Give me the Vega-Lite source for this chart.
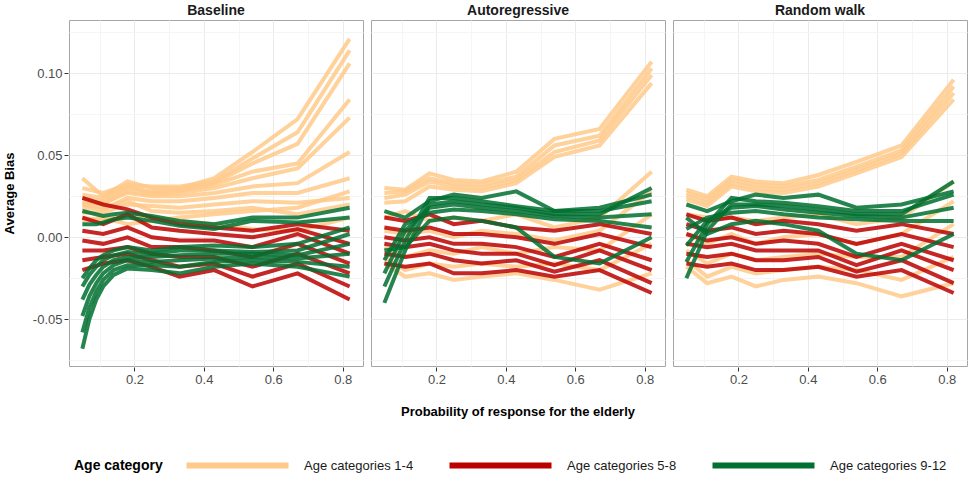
{
"$schema":"https://vega.github.io/schema/vega-lite/v6.json",
"padding":{"left":3,"top":4,"right":3,"bottom":3},
"background":"white",
"data":{"values":[
{"f":"B","g":"1-4","l":1,"x":0.05,"y":0.036},{"f":"B","g":"1-4","l":1,"x":0.11,"y":0.025},{"f":"B","g":"1-4","l":1,"x":0.18,"y":0.034},{"f":"B","g":"1-4","l":1,"x":0.25,"y":0.030},{"f":"B","g":"1-4","l":1,"x":0.33,"y":0.030},{"f":"B","g":"1-4","l":1,"x":0.43,"y":0.036},{"f":"B","g":"1-4","l":1,"x":0.54,"y":0.052},{"f":"B","g":"1-4","l":1,"x":0.67,"y":0.072},{"f":"B","g":"1-4","l":1,"x":0.82,"y":0.121},
{"f":"B","g":"1-4","l":2,"x":0.05,"y":0.030},{"f":"B","g":"1-4","l":2,"x":0.11,"y":0.027},{"f":"B","g":"1-4","l":2,"x":0.18,"y":0.032},{"f":"B","g":"1-4","l":2,"x":0.25,"y":0.031},{"f":"B","g":"1-4","l":2,"x":0.33,"y":0.031},{"f":"B","g":"1-4","l":2,"x":0.43,"y":0.034},{"f":"B","g":"1-4","l":2,"x":0.54,"y":0.048},{"f":"B","g":"1-4","l":2,"x":0.67,"y":0.064},{"f":"B","g":"1-4","l":2,"x":0.82,"y":0.114},
{"f":"B","g":"1-4","l":3,"x":0.05,"y":0.026},{"f":"B","g":"1-4","l":3,"x":0.11,"y":0.024},{"f":"B","g":"1-4","l":3,"x":0.18,"y":0.030},{"f":"B","g":"1-4","l":3,"x":0.25,"y":0.028},{"f":"B","g":"1-4","l":3,"x":0.33,"y":0.029},{"f":"B","g":"1-4","l":3,"x":0.43,"y":0.033},{"f":"B","g":"1-4","l":3,"x":0.54,"y":0.045},{"f":"B","g":"1-4","l":3,"x":0.67,"y":0.057},{"f":"B","g":"1-4","l":3,"x":0.82,"y":0.106},
{"f":"B","g":"1-4","l":4,"x":0.05,"y":0.024},{"f":"B","g":"1-4","l":4,"x":0.11,"y":0.022},{"f":"B","g":"1-4","l":4,"x":0.18,"y":0.031},{"f":"B","g":"1-4","l":4,"x":0.25,"y":0.027},{"f":"B","g":"1-4","l":4,"x":0.33,"y":0.028},{"f":"B","g":"1-4","l":4,"x":0.43,"y":0.032},{"f":"B","g":"1-4","l":4,"x":0.54,"y":0.040},{"f":"B","g":"1-4","l":4,"x":0.67,"y":0.045},{"f":"B","g":"1-4","l":4,"x":0.82,"y":0.084},
{"f":"B","g":"1-4","l":5,"x":0.05,"y":0.022},{"f":"B","g":"1-4","l":5,"x":0.11,"y":0.020},{"f":"B","g":"1-4","l":5,"x":0.18,"y":0.028},{"f":"B","g":"1-4","l":5,"x":0.25,"y":0.026},{"f":"B","g":"1-4","l":5,"x":0.33,"y":0.027},{"f":"B","g":"1-4","l":5,"x":0.43,"y":0.030},{"f":"B","g":"1-4","l":5,"x":0.54,"y":0.036},{"f":"B","g":"1-4","l":5,"x":0.67,"y":0.042},{"f":"B","g":"1-4","l":5,"x":0.82,"y":0.073},
{"f":"B","g":"1-4","l":6,"x":0.05,"y":0.020},{"f":"B","g":"1-4","l":6,"x":0.11,"y":0.021},{"f":"B","g":"1-4","l":6,"x":0.18,"y":0.027},{"f":"B","g":"1-4","l":6,"x":0.25,"y":0.025},{"f":"B","g":"1-4","l":6,"x":0.33,"y":0.025},{"f":"B","g":"1-4","l":6,"x":0.43,"y":0.027},{"f":"B","g":"1-4","l":6,"x":0.54,"y":0.031},{"f":"B","g":"1-4","l":6,"x":0.67,"y":0.033},{"f":"B","g":"1-4","l":6,"x":0.82,"y":0.052},
{"f":"B","g":"1-4","l":7,"x":0.05,"y":0.018},{"f":"B","g":"1-4","l":7,"x":0.11,"y":0.017},{"f":"B","g":"1-4","l":7,"x":0.18,"y":0.024},{"f":"B","g":"1-4","l":7,"x":0.25,"y":0.022},{"f":"B","g":"1-4","l":7,"x":0.33,"y":0.022},{"f":"B","g":"1-4","l":7,"x":0.43,"y":0.024},{"f":"B","g":"1-4","l":7,"x":0.54,"y":0.027},{"f":"B","g":"1-4","l":7,"x":0.67,"y":0.027},{"f":"B","g":"1-4","l":7,"x":0.82,"y":0.036},
{"f":"B","g":"1-4","l":8,"x":0.05,"y":0.015},{"f":"B","g":"1-4","l":8,"x":0.11,"y":0.015},{"f":"B","g":"1-4","l":8,"x":0.18,"y":0.020},{"f":"B","g":"1-4","l":8,"x":0.25,"y":0.019},{"f":"B","g":"1-4","l":8,"x":0.33,"y":0.018},{"f":"B","g":"1-4","l":8,"x":0.43,"y":0.020},{"f":"B","g":"1-4","l":8,"x":0.54,"y":0.022},{"f":"B","g":"1-4","l":8,"x":0.67,"y":0.021},{"f":"B","g":"1-4","l":8,"x":0.82,"y":0.024},
{"f":"B","g":"1-4","l":9,"x":0.05,"y":0.012},{"f":"B","g":"1-4","l":9,"x":0.11,"y":0.010},{"f":"B","g":"1-4","l":9,"x":0.18,"y":0.014},{"f":"B","g":"1-4","l":9,"x":0.25,"y":0.012},{"f":"B","g":"1-4","l":9,"x":0.33,"y":0.010},{"f":"B","g":"1-4","l":9,"x":0.43,"y":0.008},{"f":"B","g":"1-4","l":9,"x":0.54,"y":0.005},{"f":"B","g":"1-4","l":9,"x":0.67,"y":0.004},{"f":"B","g":"1-4","l":9,"x":0.82,"y":0.012},
{"f":"B","g":"1-4","l":67,"x":0.05,"y":0.010},{"f":"B","g":"1-4","l":67,"x":0.11,"y":0.012},{"f":"B","g":"1-4","l":67,"x":0.18,"y":0.008},{"f":"B","g":"1-4","l":67,"x":0.25,"y":0.010},{"f":"B","g":"1-4","l":67,"x":0.33,"y":0.012},{"f":"B","g":"1-4","l":67,"x":0.43,"y":0.014},{"f":"B","g":"1-4","l":67,"x":0.54,"y":0.016},{"f":"B","g":"1-4","l":67,"x":0.67,"y":0.018},{"f":"B","g":"1-4","l":67,"x":0.82,"y":0.028},
{"f":"B","g":"1-4","l":68,"x":0.05,"y":0.020},{"f":"B","g":"1-4","l":68,"x":0.11,"y":0.018},{"f":"B","g":"1-4","l":68,"x":0.18,"y":0.022},{"f":"B","g":"1-4","l":68,"x":0.25,"y":0.016},{"f":"B","g":"1-4","l":68,"x":0.33,"y":0.015},{"f":"B","g":"1-4","l":68,"x":0.43,"y":0.016},{"f":"B","g":"1-4","l":68,"x":0.54,"y":0.018},{"f":"B","g":"1-4","l":68,"x":0.67,"y":0.014},{"f":"B","g":"1-4","l":68,"x":0.82,"y":0.020},
{"f":"B","g":"5-8","l":10,"x":0.05,"y":0.024},{"f":"B","g":"5-8","l":10,"x":0.11,"y":0.020},{"f":"B","g":"5-8","l":10,"x":0.18,"y":0.017},{"f":"B","g":"5-8","l":10,"x":0.25,"y":0.012},{"f":"B","g":"5-8","l":10,"x":0.33,"y":0.008},{"f":"B","g":"5-8","l":10,"x":0.43,"y":0.006},{"f":"B","g":"5-8","l":10,"x":0.54,"y":0.004},{"f":"B","g":"5-8","l":10,"x":0.67,"y":0.008},{"f":"B","g":"5-8","l":10,"x":0.82,"y":0.004},
{"f":"B","g":"5-8","l":11,"x":0.05,"y":0.012},{"f":"B","g":"5-8","l":11,"x":0.11,"y":0.008},{"f":"B","g":"5-8","l":11,"x":0.18,"y":0.014},{"f":"B","g":"5-8","l":11,"x":0.25,"y":0.006},{"f":"B","g":"5-8","l":11,"x":0.33,"y":0.004},{"f":"B","g":"5-8","l":11,"x":0.43,"y":0.002},{"f":"B","g":"5-8","l":11,"x":0.54,"y":0.000},{"f":"B","g":"5-8","l":11,"x":0.67,"y":0.005},{"f":"B","g":"5-8","l":11,"x":0.82,"y":-0.004},
{"f":"B","g":"5-8","l":12,"x":0.05,"y":0.004},{"f":"B","g":"5-8","l":12,"x":0.11,"y":0.002},{"f":"B","g":"5-8","l":12,"x":0.18,"y":0.006},{"f":"B","g":"5-8","l":12,"x":0.25,"y":0.000},{"f":"B","g":"5-8","l":12,"x":0.33,"y":-0.002},{"f":"B","g":"5-8","l":12,"x":0.43,"y":-0.002},{"f":"B","g":"5-8","l":12,"x":0.54,"y":-0.006},{"f":"B","g":"5-8","l":12,"x":0.67,"y":0.002},{"f":"B","g":"5-8","l":12,"x":0.82,"y":-0.010},
{"f":"B","g":"5-8","l":13,"x":0.05,"y":-0.002},{"f":"B","g":"5-8","l":13,"x":0.11,"y":-0.004},{"f":"B","g":"5-8","l":13,"x":0.18,"y":0.000},{"f":"B","g":"5-8","l":13,"x":0.25,"y":-0.006},{"f":"B","g":"5-8","l":13,"x":0.33,"y":-0.006},{"f":"B","g":"5-8","l":13,"x":0.43,"y":-0.008},{"f":"B","g":"5-8","l":13,"x":0.54,"y":-0.012},{"f":"B","g":"5-8","l":13,"x":0.67,"y":-0.004},{"f":"B","g":"5-8","l":13,"x":0.82,"y":-0.016},
{"f":"B","g":"5-8","l":14,"x":0.05,"y":-0.008},{"f":"B","g":"5-8","l":14,"x":0.11,"y":-0.008},{"f":"B","g":"5-8","l":14,"x":0.18,"y":-0.006},{"f":"B","g":"5-8","l":14,"x":0.25,"y":-0.010},{"f":"B","g":"5-8","l":14,"x":0.33,"y":-0.012},{"f":"B","g":"5-8","l":14,"x":0.43,"y":-0.012},{"f":"B","g":"5-8","l":14,"x":0.54,"y":-0.018},{"f":"B","g":"5-8","l":14,"x":0.67,"y":-0.010},{"f":"B","g":"5-8","l":14,"x":0.82,"y":-0.022},
{"f":"B","g":"5-8","l":15,"x":0.05,"y":-0.014},{"f":"B","g":"5-8","l":15,"x":0.11,"y":-0.012},{"f":"B","g":"5-8","l":15,"x":0.18,"y":-0.010},{"f":"B","g":"5-8","l":15,"x":0.25,"y":-0.014},{"f":"B","g":"5-8","l":15,"x":0.33,"y":-0.018},{"f":"B","g":"5-8","l":15,"x":0.43,"y":-0.016},{"f":"B","g":"5-8","l":15,"x":0.54,"y":-0.024},{"f":"B","g":"5-8","l":15,"x":0.67,"y":-0.016},{"f":"B","g":"5-8","l":15,"x":0.82,"y":-0.030},
{"f":"B","g":"5-8","l":16,"x":0.05,"y":-0.020},{"f":"B","g":"5-8","l":16,"x":0.11,"y":-0.016},{"f":"B","g":"5-8","l":16,"x":0.18,"y":-0.014},{"f":"B","g":"5-8","l":16,"x":0.25,"y":-0.018},{"f":"B","g":"5-8","l":16,"x":0.33,"y":-0.024},{"f":"B","g":"5-8","l":16,"x":0.43,"y":-0.020},{"f":"B","g":"5-8","l":16,"x":0.54,"y":-0.030},{"f":"B","g":"5-8","l":16,"x":0.67,"y":-0.022},{"f":"B","g":"5-8","l":16,"x":0.82,"y":-0.038},
{"f":"B","g":"9-12","l":17,"x":0.05,"y":-0.068},{"f":"B","g":"9-12","l":17,"x":0.07,"y":-0.050},{"f":"B","g":"9-12","l":17,"x":0.09,"y":-0.038},{"f":"B","g":"9-12","l":17,"x":0.11,"y":-0.030},{"f":"B","g":"9-12","l":17,"x":0.14,"y":-0.023},{"f":"B","g":"9-12","l":17,"x":0.18,"y":-0.019},{"f":"B","g":"9-12","l":17,"x":0.25,"y":-0.020},{"f":"B","g":"9-12","l":17,"x":0.33,"y":-0.022},{"f":"B","g":"9-12","l":17,"x":0.43,"y":-0.018},{"f":"B","g":"9-12","l":17,"x":0.54,"y":-0.016},{"f":"B","g":"9-12","l":17,"x":0.67,"y":-0.018},{"f":"B","g":"9-12","l":17,"x":0.82,"y":-0.024},
{"f":"B","g":"9-12","l":18,"x":0.05,"y":-0.058},{"f":"B","g":"9-12","l":18,"x":0.07,"y":-0.043},{"f":"B","g":"9-12","l":18,"x":0.09,"y":-0.033},{"f":"B","g":"9-12","l":18,"x":0.11,"y":-0.026},{"f":"B","g":"9-12","l":18,"x":0.14,"y":-0.020},{"f":"B","g":"9-12","l":18,"x":0.18,"y":-0.017},{"f":"B","g":"9-12","l":18,"x":0.25,"y":-0.017},{"f":"B","g":"9-12","l":18,"x":0.33,"y":-0.018},{"f":"B","g":"9-12","l":18,"x":0.43,"y":-0.015},{"f":"B","g":"9-12","l":18,"x":0.54,"y":-0.014},{"f":"B","g":"9-12","l":18,"x":0.67,"y":-0.015},{"f":"B","g":"9-12","l":18,"x":0.82,"y":-0.018},
{"f":"B","g":"9-12","l":19,"x":0.05,"y":-0.048},{"f":"B","g":"9-12","l":19,"x":0.07,"y":-0.036},{"f":"B","g":"9-12","l":19,"x":0.09,"y":-0.028},{"f":"B","g":"9-12","l":19,"x":0.11,"y":-0.022},{"f":"B","g":"9-12","l":19,"x":0.14,"y":-0.017},{"f":"B","g":"9-12","l":19,"x":0.18,"y":-0.014},{"f":"B","g":"9-12","l":19,"x":0.25,"y":-0.015},{"f":"B","g":"9-12","l":19,"x":0.33,"y":-0.014},{"f":"B","g":"9-12","l":19,"x":0.43,"y":-0.013},{"f":"B","g":"9-12","l":19,"x":0.54,"y":-0.012},{"f":"B","g":"9-12","l":19,"x":0.67,"y":-0.013},{"f":"B","g":"9-12","l":19,"x":0.82,"y":-0.010},
{"f":"B","g":"9-12","l":20,"x":0.05,"y":-0.038},{"f":"B","g":"9-12","l":20,"x":0.07,"y":-0.029},{"f":"B","g":"9-12","l":20,"x":0.09,"y":-0.023},{"f":"B","g":"9-12","l":20,"x":0.11,"y":-0.018},{"f":"B","g":"9-12","l":20,"x":0.14,"y":-0.014},{"f":"B","g":"9-12","l":20,"x":0.18,"y":-0.012},{"f":"B","g":"9-12","l":20,"x":0.25,"y":-0.012},{"f":"B","g":"9-12","l":20,"x":0.33,"y":-0.011},{"f":"B","g":"9-12","l":20,"x":0.43,"y":-0.010},{"f":"B","g":"9-12","l":20,"x":0.54,"y":-0.010},{"f":"B","g":"9-12","l":20,"x":0.67,"y":-0.011},{"f":"B","g":"9-12","l":20,"x":0.82,"y":-0.004},
{"f":"B","g":"9-12","l":21,"x":0.05,"y":-0.030},{"f":"B","g":"9-12","l":21,"x":0.07,"y":-0.023},{"f":"B","g":"9-12","l":21,"x":0.09,"y":-0.018},{"f":"B","g":"9-12","l":21,"x":0.11,"y":-0.014},{"f":"B","g":"9-12","l":21,"x":0.14,"y":-0.011},{"f":"B","g":"9-12","l":21,"x":0.18,"y":-0.009},{"f":"B","g":"9-12","l":21,"x":0.25,"y":-0.010},{"f":"B","g":"9-12","l":21,"x":0.33,"y":-0.008},{"f":"B","g":"9-12","l":21,"x":0.43,"y":-0.008},{"f":"B","g":"9-12","l":21,"x":0.54,"y":-0.009},{"f":"B","g":"9-12","l":21,"x":0.67,"y":-0.008},{"f":"B","g":"9-12","l":21,"x":0.82,"y":0.002},
{"f":"B","g":"9-12","l":22,"x":0.05,"y":-0.025},{"f":"B","g":"9-12","l":22,"x":0.07,"y":-0.019},{"f":"B","g":"9-12","l":22,"x":0.09,"y":-0.014},{"f":"B","g":"9-12","l":22,"x":0.11,"y":-0.011},{"f":"B","g":"9-12","l":22,"x":0.14,"y":-0.008},{"f":"B","g":"9-12","l":22,"x":0.18,"y":-0.006},{"f":"B","g":"9-12","l":22,"x":0.25,"y":-0.008},{"f":"B","g":"9-12","l":22,"x":0.33,"y":-0.006},{"f":"B","g":"9-12","l":22,"x":0.43,"y":-0.005},{"f":"B","g":"9-12","l":22,"x":0.54,"y":-0.006},{"f":"B","g":"9-12","l":22,"x":0.67,"y":-0.004},{"f":"B","g":"9-12","l":22,"x":0.82,"y":0.006},
{"f":"B","g":"9-12","l":23,"x":0.05,"y":0.016},{"f":"B","g":"9-12","l":23,"x":0.07,"y":0.015},{"f":"B","g":"9-12","l":23,"x":0.09,"y":0.014},{"f":"B","g":"9-12","l":23,"x":0.11,"y":0.013},{"f":"B","g":"9-12","l":23,"x":0.14,"y":0.014},{"f":"B","g":"9-12","l":23,"x":0.18,"y":0.015},{"f":"B","g":"9-12","l":23,"x":0.25,"y":0.013},{"f":"B","g":"9-12","l":23,"x":0.33,"y":0.010},{"f":"B","g":"9-12","l":23,"x":0.43,"y":0.008},{"f":"B","g":"9-12","l":23,"x":0.54,"y":0.012},{"f":"B","g":"9-12","l":23,"x":0.67,"y":0.012},{"f":"B","g":"9-12","l":23,"x":0.82,"y":0.018},
{"f":"B","g":"9-12","l":24,"x":0.05,"y":0.008},{"f":"B","g":"9-12","l":24,"x":0.07,"y":0.008},{"f":"B","g":"9-12","l":24,"x":0.09,"y":0.008},{"f":"B","g":"9-12","l":24,"x":0.11,"y":0.009},{"f":"B","g":"9-12","l":24,"x":0.14,"y":0.011},{"f":"B","g":"9-12","l":24,"x":0.18,"y":0.012},{"f":"B","g":"9-12","l":24,"x":0.25,"y":0.010},{"f":"B","g":"9-12","l":24,"x":0.33,"y":0.007},{"f":"B","g":"9-12","l":24,"x":0.43,"y":0.005},{"f":"B","g":"9-12","l":24,"x":0.54,"y":0.010},{"f":"B","g":"9-12","l":24,"x":0.67,"y":0.009},{"f":"B","g":"9-12","l":24,"x":0.82,"y":0.012},
{"f":"A","g":"1-4","l":25,"x":0.05,"y":0.030},{"f":"A","g":"1-4","l":25,"x":0.11,"y":0.029},{"f":"A","g":"1-4","l":25,"x":0.18,"y":0.039},{"f":"A","g":"1-4","l":25,"x":0.25,"y":0.035},{"f":"A","g":"1-4","l":25,"x":0.33,"y":0.034},{"f":"A","g":"1-4","l":25,"x":0.43,"y":0.040},{"f":"A","g":"1-4","l":25,"x":0.54,"y":0.060},{"f":"A","g":"1-4","l":25,"x":0.67,"y":0.066},{"f":"A","g":"1-4","l":25,"x":0.82,"y":0.107},
{"f":"A","g":"1-4","l":26,"x":0.05,"y":0.027},{"f":"A","g":"1-4","l":26,"x":0.11,"y":0.028},{"f":"A","g":"1-4","l":26,"x":0.18,"y":0.036},{"f":"A","g":"1-4","l":26,"x":0.25,"y":0.033},{"f":"A","g":"1-4","l":26,"x":0.33,"y":0.032},{"f":"A","g":"1-4","l":26,"x":0.43,"y":0.037},{"f":"A","g":"1-4","l":26,"x":0.54,"y":0.056},{"f":"A","g":"1-4","l":26,"x":0.67,"y":0.062},{"f":"A","g":"1-4","l":26,"x":0.82,"y":0.103},
{"f":"A","g":"1-4","l":27,"x":0.05,"y":0.024},{"f":"A","g":"1-4","l":27,"x":0.11,"y":0.026},{"f":"A","g":"1-4","l":27,"x":0.18,"y":0.034},{"f":"A","g":"1-4","l":27,"x":0.25,"y":0.031},{"f":"A","g":"1-4","l":27,"x":0.33,"y":0.030},{"f":"A","g":"1-4","l":27,"x":0.43,"y":0.035},{"f":"A","g":"1-4","l":27,"x":0.54,"y":0.052},{"f":"A","g":"1-4","l":27,"x":0.67,"y":0.059},{"f":"A","g":"1-4","l":27,"x":0.82,"y":0.099},
{"f":"A","g":"1-4","l":28,"x":0.05,"y":0.021},{"f":"A","g":"1-4","l":28,"x":0.11,"y":0.022},{"f":"A","g":"1-4","l":28,"x":0.18,"y":0.031},{"f":"A","g":"1-4","l":28,"x":0.25,"y":0.029},{"f":"A","g":"1-4","l":28,"x":0.33,"y":0.028},{"f":"A","g":"1-4","l":28,"x":0.43,"y":0.033},{"f":"A","g":"1-4","l":28,"x":0.54,"y":0.049},{"f":"A","g":"1-4","l":28,"x":0.67,"y":0.056},{"f":"A","g":"1-4","l":28,"x":0.82,"y":0.094},
{"f":"A","g":"1-4","l":29,"x":0.05,"y":0.012},{"f":"A","g":"1-4","l":29,"x":0.11,"y":0.016},{"f":"A","g":"1-4","l":29,"x":0.18,"y":0.010},{"f":"A","g":"1-4","l":29,"x":0.25,"y":0.012},{"f":"A","g":"1-4","l":29,"x":0.33,"y":0.010},{"f":"A","g":"1-4","l":29,"x":0.43,"y":0.014},{"f":"A","g":"1-4","l":29,"x":0.54,"y":0.006},{"f":"A","g":"1-4","l":29,"x":0.67,"y":0.012},{"f":"A","g":"1-4","l":29,"x":0.82,"y":0.040},
{"f":"A","g":"1-4","l":30,"x":0.05,"y":0.004},{"f":"A","g":"1-4","l":30,"x":0.11,"y":0.002},{"f":"A","g":"1-4","l":30,"x":0.18,"y":0.004},{"f":"A","g":"1-4","l":30,"x":0.25,"y":0.000},{"f":"A","g":"1-4","l":30,"x":0.33,"y":0.004},{"f":"A","g":"1-4","l":30,"x":0.43,"y":0.002},{"f":"A","g":"1-4","l":30,"x":0.54,"y":-0.002},{"f":"A","g":"1-4","l":30,"x":0.67,"y":0.004},{"f":"A","g":"1-4","l":30,"x":0.82,"y":0.028},
{"f":"A","g":"1-4","l":31,"x":0.05,"y":-0.006},{"f":"A","g":"1-4","l":31,"x":0.11,"y":-0.012},{"f":"A","g":"1-4","l":31,"x":0.18,"y":-0.008},{"f":"A","g":"1-4","l":31,"x":0.25,"y":-0.010},{"f":"A","g":"1-4","l":31,"x":0.33,"y":-0.006},{"f":"A","g":"1-4","l":31,"x":0.43,"y":-0.010},{"f":"A","g":"1-4","l":31,"x":0.54,"y":-0.006},{"f":"A","g":"1-4","l":31,"x":0.67,"y":-0.008},{"f":"A","g":"1-4","l":31,"x":0.82,"y":0.014},
{"f":"A","g":"1-4","l":32,"x":0.05,"y":-0.012},{"f":"A","g":"1-4","l":32,"x":0.11,"y":-0.020},{"f":"A","g":"1-4","l":32,"x":0.18,"y":-0.016},{"f":"A","g":"1-4","l":32,"x":0.25,"y":-0.018},{"f":"A","g":"1-4","l":32,"x":0.33,"y":-0.016},{"f":"A","g":"1-4","l":32,"x":0.43,"y":-0.018},{"f":"A","g":"1-4","l":32,"x":0.54,"y":-0.016},{"f":"A","g":"1-4","l":32,"x":0.67,"y":-0.020},{"f":"A","g":"1-4","l":32,"x":0.82,"y":-0.004},
{"f":"A","g":"1-4","l":33,"x":0.05,"y":-0.016},{"f":"A","g":"1-4","l":33,"x":0.11,"y":-0.024},{"f":"A","g":"1-4","l":33,"x":0.18,"y":-0.022},{"f":"A","g":"1-4","l":33,"x":0.25,"y":-0.026},{"f":"A","g":"1-4","l":33,"x":0.33,"y":-0.024},{"f":"A","g":"1-4","l":33,"x":0.43,"y":-0.022},{"f":"A","g":"1-4","l":33,"x":0.54,"y":-0.026},{"f":"A","g":"1-4","l":33,"x":0.67,"y":-0.032},{"f":"A","g":"1-4","l":33,"x":0.82,"y":-0.022},
{"f":"A","g":"5-8","l":34,"x":0.05,"y":0.012},{"f":"A","g":"5-8","l":34,"x":0.11,"y":0.010},{"f":"A","g":"5-8","l":34,"x":0.18,"y":0.014},{"f":"A","g":"5-8","l":34,"x":0.25,"y":0.008},{"f":"A","g":"5-8","l":34,"x":0.33,"y":0.010},{"f":"A","g":"5-8","l":34,"x":0.43,"y":0.006},{"f":"A","g":"5-8","l":34,"x":0.54,"y":0.004},{"f":"A","g":"5-8","l":34,"x":0.67,"y":0.008},{"f":"A","g":"5-8","l":34,"x":0.82,"y":0.002},
{"f":"A","g":"5-8","l":35,"x":0.05,"y":0.006},{"f":"A","g":"5-8","l":35,"x":0.11,"y":0.004},{"f":"A","g":"5-8","l":35,"x":0.18,"y":0.006},{"f":"A","g":"5-8","l":35,"x":0.25,"y":0.002},{"f":"A","g":"5-8","l":35,"x":0.33,"y":0.002},{"f":"A","g":"5-8","l":35,"x":0.43,"y":0.000},{"f":"A","g":"5-8","l":35,"x":0.54,"y":-0.004},{"f":"A","g":"5-8","l":35,"x":0.67,"y":0.002},{"f":"A","g":"5-8","l":35,"x":0.82,"y":-0.006},
{"f":"A","g":"5-8","l":36,"x":0.05,"y":0.000},{"f":"A","g":"5-8","l":36,"x":0.11,"y":-0.002},{"f":"A","g":"5-8","l":36,"x":0.18,"y":0.000},{"f":"A","g":"5-8","l":36,"x":0.25,"y":-0.004},{"f":"A","g":"5-8","l":36,"x":0.33,"y":-0.004},{"f":"A","g":"5-8","l":36,"x":0.43,"y":-0.006},{"f":"A","g":"5-8","l":36,"x":0.54,"y":-0.012},{"f":"A","g":"5-8","l":36,"x":0.67,"y":-0.004},{"f":"A","g":"5-8","l":36,"x":0.82,"y":-0.014},
{"f":"A","g":"5-8","l":37,"x":0.05,"y":-0.004},{"f":"A","g":"5-8","l":37,"x":0.11,"y":-0.006},{"f":"A","g":"5-8","l":37,"x":0.18,"y":-0.004},{"f":"A","g":"5-8","l":37,"x":0.25,"y":-0.008},{"f":"A","g":"5-8","l":37,"x":0.33,"y":-0.010},{"f":"A","g":"5-8","l":37,"x":0.43,"y":-0.010},{"f":"A","g":"5-8","l":37,"x":0.54,"y":-0.017},{"f":"A","g":"5-8","l":37,"x":0.67,"y":-0.008},{"f":"A","g":"5-8","l":37,"x":0.82,"y":-0.020},
{"f":"A","g":"5-8","l":38,"x":0.05,"y":-0.010},{"f":"A","g":"5-8","l":38,"x":0.11,"y":-0.012},{"f":"A","g":"5-8","l":38,"x":0.18,"y":-0.010},{"f":"A","g":"5-8","l":38,"x":0.25,"y":-0.014},{"f":"A","g":"5-8","l":38,"x":0.33,"y":-0.016},{"f":"A","g":"5-8","l":38,"x":0.43,"y":-0.014},{"f":"A","g":"5-8","l":38,"x":0.54,"y":-0.021},{"f":"A","g":"5-8","l":38,"x":0.67,"y":-0.014},{"f":"A","g":"5-8","l":38,"x":0.82,"y":-0.028},
{"f":"A","g":"5-8","l":39,"x":0.05,"y":-0.016},{"f":"A","g":"5-8","l":39,"x":0.11,"y":-0.018},{"f":"A","g":"5-8","l":39,"x":0.18,"y":-0.016},{"f":"A","g":"5-8","l":39,"x":0.25,"y":-0.022},{"f":"A","g":"5-8","l":39,"x":0.33,"y":-0.022},{"f":"A","g":"5-8","l":39,"x":0.43,"y":-0.020},{"f":"A","g":"5-8","l":39,"x":0.54,"y":-0.024},{"f":"A","g":"5-8","l":39,"x":0.67,"y":-0.020},{"f":"A","g":"5-8","l":39,"x":0.82,"y":-0.034},
{"f":"A","g":"9-12","l":40,"x":0.05,"y":-0.040},{"f":"A","g":"9-12","l":40,"x":0.11,"y":-0.008},{"f":"A","g":"9-12","l":40,"x":0.18,"y":0.020},{"f":"A","g":"9-12","l":40,"x":0.25,"y":0.022},{"f":"A","g":"9-12","l":40,"x":0.33,"y":0.020},{"f":"A","g":"9-12","l":40,"x":0.43,"y":0.018},{"f":"A","g":"9-12","l":40,"x":0.54,"y":0.014},{"f":"A","g":"9-12","l":40,"x":0.67,"y":0.014},{"f":"A","g":"9-12","l":40,"x":0.82,"y":0.030},
{"f":"A","g":"9-12","l":41,"x":0.05,"y":-0.030},{"f":"A","g":"9-12","l":41,"x":0.11,"y":-0.002},{"f":"A","g":"9-12","l":41,"x":0.18,"y":0.024},{"f":"A","g":"9-12","l":41,"x":0.25,"y":0.024},{"f":"A","g":"9-12","l":41,"x":0.33,"y":0.022},{"f":"A","g":"9-12","l":41,"x":0.43,"y":0.019},{"f":"A","g":"9-12","l":41,"x":0.54,"y":0.016},{"f":"A","g":"9-12","l":41,"x":0.67,"y":0.016},{"f":"A","g":"9-12","l":41,"x":0.82,"y":0.022},
{"f":"A","g":"9-12","l":42,"x":0.05,"y":-0.022},{"f":"A","g":"9-12","l":42,"x":0.11,"y":0.004},{"f":"A","g":"9-12","l":42,"x":0.18,"y":0.018},{"f":"A","g":"9-12","l":42,"x":0.25,"y":0.020},{"f":"A","g":"9-12","l":42,"x":0.33,"y":0.018},{"f":"A","g":"9-12","l":42,"x":0.43,"y":0.016},{"f":"A","g":"9-12","l":42,"x":0.54,"y":0.013},{"f":"A","g":"9-12","l":42,"x":0.67,"y":0.012},{"f":"A","g":"9-12","l":42,"x":0.82,"y":0.014},
{"f":"A","g":"9-12","l":43,"x":0.05,"y":-0.014},{"f":"A","g":"9-12","l":43,"x":0.11,"y":0.008},{"f":"A","g":"9-12","l":43,"x":0.18,"y":0.015},{"f":"A","g":"9-12","l":43,"x":0.25,"y":0.017},{"f":"A","g":"9-12","l":43,"x":0.33,"y":0.016},{"f":"A","g":"9-12","l":43,"x":0.43,"y":0.014},{"f":"A","g":"9-12","l":43,"x":0.54,"y":0.011},{"f":"A","g":"9-12","l":43,"x":0.67,"y":0.010},{"f":"A","g":"9-12","l":43,"x":0.82,"y":0.006},
{"f":"A","g":"9-12","l":44,"x":0.05,"y":-0.008},{"f":"A","g":"9-12","l":44,"x":0.11,"y":-0.006},{"f":"A","g":"9-12","l":44,"x":0.18,"y":0.010},{"f":"A","g":"9-12","l":44,"x":0.25,"y":0.012},{"f":"A","g":"9-12","l":44,"x":0.33,"y":0.010},{"f":"A","g":"9-12","l":44,"x":0.43,"y":0.006},{"f":"A","g":"9-12","l":44,"x":0.54,"y":-0.012},{"f":"A","g":"9-12","l":44,"x":0.67,"y":-0.016},{"f":"A","g":"9-12","l":44,"x":0.82,"y":0.000},
{"f":"A","g":"9-12","l":45,"x":0.05,"y":0.016},{"f":"A","g":"9-12","l":45,"x":0.11,"y":0.012},{"f":"A","g":"9-12","l":45,"x":0.18,"y":0.022},{"f":"A","g":"9-12","l":45,"x":0.25,"y":0.026},{"f":"A","g":"9-12","l":45,"x":0.33,"y":0.024},{"f":"A","g":"9-12","l":45,"x":0.43,"y":0.028},{"f":"A","g":"9-12","l":45,"x":0.54,"y":0.016},{"f":"A","g":"9-12","l":45,"x":0.67,"y":0.018},{"f":"A","g":"9-12","l":45,"x":0.82,"y":0.026},
{"f":"R","g":"1-4","l":46,"x":0.05,"y":0.029},{"f":"R","g":"1-4","l":46,"x":0.11,"y":0.025},{"f":"R","g":"1-4","l":46,"x":0.18,"y":0.037},{"f":"R","g":"1-4","l":46,"x":0.25,"y":0.034},{"f":"R","g":"1-4","l":46,"x":0.33,"y":0.033},{"f":"R","g":"1-4","l":46,"x":0.43,"y":0.038},{"f":"R","g":"1-4","l":46,"x":0.54,"y":0.046},{"f":"R","g":"1-4","l":46,"x":0.67,"y":0.056},{"f":"R","g":"1-4","l":46,"x":0.82,"y":0.096},
{"f":"R","g":"1-4","l":47,"x":0.05,"y":0.027},{"f":"R","g":"1-4","l":47,"x":0.11,"y":0.023},{"f":"R","g":"1-4","l":47,"x":0.18,"y":0.035},{"f":"R","g":"1-4","l":47,"x":0.25,"y":0.032},{"f":"R","g":"1-4","l":47,"x":0.33,"y":0.031},{"f":"R","g":"1-4","l":47,"x":0.43,"y":0.035},{"f":"R","g":"1-4","l":47,"x":0.54,"y":0.043},{"f":"R","g":"1-4","l":47,"x":0.67,"y":0.053},{"f":"R","g":"1-4","l":47,"x":0.82,"y":0.092},
{"f":"R","g":"1-4","l":48,"x":0.05,"y":0.025},{"f":"R","g":"1-4","l":48,"x":0.11,"y":0.021},{"f":"R","g":"1-4","l":48,"x":0.18,"y":0.033},{"f":"R","g":"1-4","l":48,"x":0.25,"y":0.030},{"f":"R","g":"1-4","l":48,"x":0.33,"y":0.029},{"f":"R","g":"1-4","l":48,"x":0.43,"y":0.033},{"f":"R","g":"1-4","l":48,"x":0.54,"y":0.041},{"f":"R","g":"1-4","l":48,"x":0.67,"y":0.051},{"f":"R","g":"1-4","l":48,"x":0.82,"y":0.088},
{"f":"R","g":"1-4","l":49,"x":0.05,"y":0.023},{"f":"R","g":"1-4","l":49,"x":0.11,"y":0.019},{"f":"R","g":"1-4","l":49,"x":0.18,"y":0.031},{"f":"R","g":"1-4","l":49,"x":0.25,"y":0.028},{"f":"R","g":"1-4","l":49,"x":0.33,"y":0.027},{"f":"R","g":"1-4","l":49,"x":0.43,"y":0.031},{"f":"R","g":"1-4","l":49,"x":0.54,"y":0.039},{"f":"R","g":"1-4","l":49,"x":0.67,"y":0.049},{"f":"R","g":"1-4","l":49,"x":0.82,"y":0.084},
{"f":"R","g":"1-4","l":50,"x":0.05,"y":0.014},{"f":"R","g":"1-4","l":50,"x":0.11,"y":0.012},{"f":"R","g":"1-4","l":50,"x":0.18,"y":0.012},{"f":"R","g":"1-4","l":50,"x":0.25,"y":0.010},{"f":"R","g":"1-4","l":50,"x":0.33,"y":0.012},{"f":"R","g":"1-4","l":50,"x":0.43,"y":0.014},{"f":"R","g":"1-4","l":50,"x":0.54,"y":0.008},{"f":"R","g":"1-4","l":50,"x":0.67,"y":0.012},{"f":"R","g":"1-4","l":50,"x":0.82,"y":0.034},
{"f":"R","g":"1-4","l":51,"x":0.05,"y":0.002},{"f":"R","g":"1-4","l":51,"x":0.11,"y":-0.004},{"f":"R","g":"1-4","l":51,"x":0.18,"y":0.002},{"f":"R","g":"1-4","l":51,"x":0.25,"y":-0.004},{"f":"R","g":"1-4","l":51,"x":0.33,"y":0.000},{"f":"R","g":"1-4","l":51,"x":0.43,"y":0.002},{"f":"R","g":"1-4","l":51,"x":0.54,"y":-0.004},{"f":"R","g":"1-4","l":51,"x":0.67,"y":0.002},{"f":"R","g":"1-4","l":51,"x":0.82,"y":0.022},
{"f":"R","g":"1-4","l":52,"x":0.05,"y":-0.008},{"f":"R","g":"1-4","l":52,"x":0.11,"y":-0.016},{"f":"R","g":"1-4","l":52,"x":0.18,"y":-0.010},{"f":"R","g":"1-4","l":52,"x":0.25,"y":-0.014},{"f":"R","g":"1-4","l":52,"x":0.33,"y":-0.012},{"f":"R","g":"1-4","l":52,"x":0.43,"y":-0.010},{"f":"R","g":"1-4","l":52,"x":0.54,"y":-0.012},{"f":"R","g":"1-4","l":52,"x":0.67,"y":-0.012},{"f":"R","g":"1-4","l":52,"x":0.82,"y":0.008},
{"f":"R","g":"1-4","l":53,"x":0.05,"y":-0.014},{"f":"R","g":"1-4","l":53,"x":0.11,"y":-0.024},{"f":"R","g":"1-4","l":53,"x":0.18,"y":-0.018},{"f":"R","g":"1-4","l":53,"x":0.25,"y":-0.022},{"f":"R","g":"1-4","l":53,"x":0.33,"y":-0.020},{"f":"R","g":"1-4","l":53,"x":0.43,"y":-0.018},{"f":"R","g":"1-4","l":53,"x":0.54,"y":-0.020},{"f":"R","g":"1-4","l":53,"x":0.67,"y":-0.026},{"f":"R","g":"1-4","l":53,"x":0.82,"y":-0.012},
{"f":"R","g":"1-4","l":54,"x":0.05,"y":-0.018},{"f":"R","g":"1-4","l":54,"x":0.11,"y":-0.028},{"f":"R","g":"1-4","l":54,"x":0.18,"y":-0.024},{"f":"R","g":"1-4","l":54,"x":0.25,"y":-0.030},{"f":"R","g":"1-4","l":54,"x":0.33,"y":-0.026},{"f":"R","g":"1-4","l":54,"x":0.43,"y":-0.024},{"f":"R","g":"1-4","l":54,"x":0.54,"y":-0.028},{"f":"R","g":"1-4","l":54,"x":0.67,"y":-0.036},{"f":"R","g":"1-4","l":54,"x":0.82,"y":-0.028},
{"f":"R","g":"5-8","l":55,"x":0.05,"y":0.014},{"f":"R","g":"5-8","l":55,"x":0.11,"y":0.010},{"f":"R","g":"5-8","l":55,"x":0.18,"y":0.012},{"f":"R","g":"5-8","l":55,"x":0.25,"y":0.008},{"f":"R","g":"5-8","l":55,"x":0.33,"y":0.010},{"f":"R","g":"5-8","l":55,"x":0.43,"y":0.008},{"f":"R","g":"5-8","l":55,"x":0.54,"y":0.004},{"f":"R","g":"5-8","l":55,"x":0.67,"y":0.008},{"f":"R","g":"5-8","l":55,"x":0.82,"y":0.002},
{"f":"R","g":"5-8","l":56,"x":0.05,"y":0.008},{"f":"R","g":"5-8","l":56,"x":0.11,"y":0.004},{"f":"R","g":"5-8","l":56,"x":0.18,"y":0.006},{"f":"R","g":"5-8","l":56,"x":0.25,"y":0.002},{"f":"R","g":"5-8","l":56,"x":0.33,"y":0.004},{"f":"R","g":"5-8","l":56,"x":0.43,"y":0.002},{"f":"R","g":"5-8","l":56,"x":0.54,"y":-0.004},{"f":"R","g":"5-8","l":56,"x":0.67,"y":0.002},{"f":"R","g":"5-8","l":56,"x":0.82,"y":-0.006},
{"f":"R","g":"5-8","l":57,"x":0.05,"y":0.002},{"f":"R","g":"5-8","l":57,"x":0.11,"y":-0.002},{"f":"R","g":"5-8","l":57,"x":0.18,"y":0.000},{"f":"R","g":"5-8","l":57,"x":0.25,"y":-0.004},{"f":"R","g":"5-8","l":57,"x":0.33,"y":-0.002},{"f":"R","g":"5-8","l":57,"x":0.43,"y":-0.004},{"f":"R","g":"5-8","l":57,"x":0.54,"y":-0.012},{"f":"R","g":"5-8","l":57,"x":0.67,"y":-0.004},{"f":"R","g":"5-8","l":57,"x":0.82,"y":-0.014},
{"f":"R","g":"5-8","l":58,"x":0.05,"y":-0.004},{"f":"R","g":"5-8","l":58,"x":0.11,"y":-0.006},{"f":"R","g":"5-8","l":58,"x":0.18,"y":-0.004},{"f":"R","g":"5-8","l":58,"x":0.25,"y":-0.008},{"f":"R","g":"5-8","l":58,"x":0.33,"y":-0.008},{"f":"R","g":"5-8","l":58,"x":0.43,"y":-0.008},{"f":"R","g":"5-8","l":58,"x":0.54,"y":-0.017},{"f":"R","g":"5-8","l":58,"x":0.67,"y":-0.008},{"f":"R","g":"5-8","l":58,"x":0.82,"y":-0.020},
{"f":"R","g":"5-8","l":59,"x":0.05,"y":-0.010},{"f":"R","g":"5-8","l":59,"x":0.11,"y":-0.012},{"f":"R","g":"5-8","l":59,"x":0.18,"y":-0.010},{"f":"R","g":"5-8","l":59,"x":0.25,"y":-0.014},{"f":"R","g":"5-8","l":59,"x":0.33,"y":-0.014},{"f":"R","g":"5-8","l":59,"x":0.43,"y":-0.012},{"f":"R","g":"5-8","l":59,"x":0.54,"y":-0.021},{"f":"R","g":"5-8","l":59,"x":0.67,"y":-0.014},{"f":"R","g":"5-8","l":59,"x":0.82,"y":-0.028},
{"f":"R","g":"5-8","l":60,"x":0.05,"y":-0.016},{"f":"R","g":"5-8","l":60,"x":0.11,"y":-0.018},{"f":"R","g":"5-8","l":60,"x":0.18,"y":-0.016},{"f":"R","g":"5-8","l":60,"x":0.25,"y":-0.020},{"f":"R","g":"5-8","l":60,"x":0.33,"y":-0.020},{"f":"R","g":"5-8","l":60,"x":0.43,"y":-0.018},{"f":"R","g":"5-8","l":60,"x":0.54,"y":-0.024},{"f":"R","g":"5-8","l":60,"x":0.67,"y":-0.020},{"f":"R","g":"5-8","l":60,"x":0.82,"y":-0.034},
{"f":"R","g":"9-12","l":61,"x":0.05,"y":-0.025},{"f":"R","g":"9-12","l":61,"x":0.11,"y":0.004},{"f":"R","g":"9-12","l":61,"x":0.18,"y":0.020},{"f":"R","g":"9-12","l":61,"x":0.25,"y":0.020},{"f":"R","g":"9-12","l":61,"x":0.33,"y":0.019},{"f":"R","g":"9-12","l":61,"x":0.43,"y":0.017},{"f":"R","g":"9-12","l":61,"x":0.54,"y":0.014},{"f":"R","g":"9-12","l":61,"x":0.67,"y":0.014},{"f":"R","g":"9-12","l":61,"x":0.82,"y":0.034},
{"f":"R","g":"9-12","l":62,"x":0.05,"y":-0.015},{"f":"R","g":"9-12","l":62,"x":0.11,"y":0.008},{"f":"R","g":"9-12","l":62,"x":0.18,"y":0.024},{"f":"R","g":"9-12","l":62,"x":0.25,"y":0.022},{"f":"R","g":"9-12","l":62,"x":0.33,"y":0.021},{"f":"R","g":"9-12","l":62,"x":0.43,"y":0.019},{"f":"R","g":"9-12","l":62,"x":0.54,"y":0.016},{"f":"R","g":"9-12","l":62,"x":0.67,"y":0.016},{"f":"R","g":"9-12","l":62,"x":0.82,"y":0.026},
{"f":"R","g":"9-12","l":63,"x":0.05,"y":-0.005},{"f":"R","g":"9-12","l":63,"x":0.11,"y":0.010},{"f":"R","g":"9-12","l":63,"x":0.18,"y":0.018},{"f":"R","g":"9-12","l":63,"x":0.25,"y":0.019},{"f":"R","g":"9-12","l":63,"x":0.33,"y":0.017},{"f":"R","g":"9-12","l":63,"x":0.43,"y":0.015},{"f":"R","g":"9-12","l":63,"x":0.54,"y":0.013},{"f":"R","g":"9-12","l":63,"x":0.67,"y":0.012},{"f":"R","g":"9-12","l":63,"x":0.82,"y":0.018},
{"f":"R","g":"9-12","l":64,"x":0.05,"y":0.005},{"f":"R","g":"9-12","l":64,"x":0.11,"y":0.012},{"f":"R","g":"9-12","l":64,"x":0.18,"y":0.015},{"f":"R","g":"9-12","l":64,"x":0.25,"y":0.016},{"f":"R","g":"9-12","l":64,"x":0.33,"y":0.014},{"f":"R","g":"9-12","l":64,"x":0.43,"y":0.012},{"f":"R","g":"9-12","l":64,"x":0.54,"y":0.011},{"f":"R","g":"9-12","l":64,"x":0.67,"y":0.010},{"f":"R","g":"9-12","l":64,"x":0.82,"y":0.010},
{"f":"R","g":"9-12","l":65,"x":0.05,"y":0.012},{"f":"R","g":"9-12","l":65,"x":0.11,"y":0.002},{"f":"R","g":"9-12","l":65,"x":0.18,"y":0.008},{"f":"R","g":"9-12","l":65,"x":0.25,"y":0.010},{"f":"R","g":"9-12","l":65,"x":0.33,"y":0.008},{"f":"R","g":"9-12","l":65,"x":0.43,"y":0.004},{"f":"R","g":"9-12","l":65,"x":0.54,"y":-0.010},{"f":"R","g":"9-12","l":65,"x":0.67,"y":-0.014},{"f":"R","g":"9-12","l":65,"x":0.82,"y":0.002},
{"f":"R","g":"9-12","l":66,"x":0.05,"y":0.020},{"f":"R","g":"9-12","l":66,"x":0.11,"y":0.016},{"f":"R","g":"9-12","l":66,"x":0.18,"y":0.022},{"f":"R","g":"9-12","l":66,"x":0.25,"y":0.026},{"f":"R","g":"9-12","l":66,"x":0.33,"y":0.024},{"f":"R","g":"9-12","l":66,"x":0.43,"y":0.026},{"f":"R","g":"9-12","l":66,"x":0.54,"y":0.018},{"f":"R","g":"9-12","l":66,"x":0.67,"y":0.020},{"f":"R","g":"9-12","l":66,"x":0.82,"y":0.028}
]},
"facet":{"column":{"field":"f","type":"nominal","sort":["B","A","R"],"title":"Probability of response for the elderly",
  "header":{"labelExpr":"datum.value=='B'?'Baseline':datum.value=='A'?'Autoregressive':'Random walk'","labelFont":"Liberation Sans","labelFontSize":14,"labelFontWeight":"bold","labelColor":"#1A1A1A","labelPadding":1,"labelOrient":"top",
    "titleOrient":"bottom","titleFont":"Liberation Sans","titleFontSize":13,"titleFontWeight":"bold","titleColor":"#000000","titlePadding":10}}},
"spacing":6,
"spec":{
  "width":294,"height":346,
  "mark":{"type":"line","strokeWidth":4,"opacity":0.85},
  "encoding":{
    "x":{"field":"x","type":"quantitative","scale":{"domain":[0.0115,0.8585],"nice":false,"zero":false},
      "axis":{"title":null,"values":[0.1,0.2,0.3,0.4,0.5,0.6,0.7,0.8],"format":".1f",
        "labelExpr":"round(datum.value*10)%2==0 ? datum.label : ''",
        "gridColor":{"condition":{"test":"round(datum.value*10)%2==1","value":"#F5F5F5"},"value":"#EBEBEB"},
        "tickOpacity":{"condition":{"test":"round(datum.value*10)%2==1","value":0},"value":1}}},
    "y":{"field":"y","type":"quantitative","scale":{"domain":[-0.0785,0.1325],"nice":false,"zero":false},
      "axis":{"title":"Average Bias","values":[-0.075,-0.05,-0.025,0,0.025,0.05,0.075,0.1,0.125],"format":".2f",
        "labelExpr":"abs(round(datum.value*40))%2==0 ? replace(datum.label,'\u2212','-') : ''",
        "gridColor":{"condition":{"test":"abs(round(datum.value*40))%2==1","value":"#F5F5F5"},"value":"#EBEBEB"},
        "tickOpacity":{"condition":{"test":"abs(round(datum.value*40))%2==1","value":0},"value":1},
        "titlePadding":16}},
    "color":{"field":"g","type":"nominal","scale":{"domain":["1-4","5-8","9-12"],"range":["#FFC98A","#BB0000","#007030"]},
      "legend":{"orient":"none","legendX":5,"legendY":434,"direction":"horizontal","title":"Age category","titleOrient":"left","titlePadding":63,
        "titleFont":"Liberation Sans","titleFontSize":14,"titleFontWeight":"bold","titleColor":"#000000",
        "labelFont":"Liberation Sans","labelFontSize":13,"labelColor":"#1A1A1A","labelOffset":55,"labelLimit":300,
        "labelExpr":"'Age categories ' + datum.label","symbolType":"M-6,0H6","symbolSize":289,"symbolStrokeWidth":6,"symbolOpacity":1,
        "columnPadding":23,"gridAlign":"none"}},
    "detail":{"field":"l"}
  }
},
"config":{
  "view":{"stroke":"#A6A6A6","strokeWidth":1},
  "axis":{"domain":false,"labelFont":"Liberation Sans","labelFontSize":13,"labelColor":"#4D4D4D","tickColor":"#333333","tickSize":4,"labelPadding":2,
    "titleFont":"Liberation Sans","titleFontSize":13,"titleFontWeight":"bold","titleColor":"#000000","grid":true,"gridWidth":1}
}
}
